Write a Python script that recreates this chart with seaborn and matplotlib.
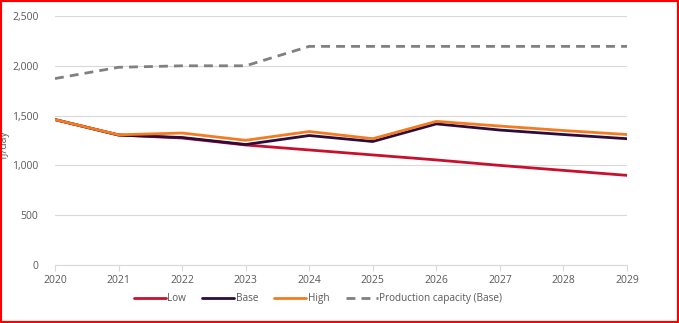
import matplotlib
matplotlib.use("Agg")
import matplotlib.pyplot as plt
import matplotlib.patches as mpatches
import matplotlib.ticker as mticker
import seaborn as sns
import pandas as pd

years = [2020, 2021, 2022, 2023, 2024, 2025, 2026, 2027, 2028, 2029]
low = [1460, 1305, 1275, 1205, 1155, 1105, 1055, 1000, 950, 900]
base = [1460, 1305, 1280, 1210, 1300, 1240, 1417, 1355, 1310, 1268]
high = [1460, 1307, 1325, 1252, 1340, 1268, 1442, 1395, 1350, 1310]
capacity = [1872, 1985, 2000, 2000, 2195, 2195, 2195, 2195, 2195, 2195]

series_names = ["Low", "Base", "High", "Production capacity (Base)"]
series_values = [low, base, high, capacity]

df = pd.DataFrame(
    [(name, y, v) for name, vals in zip(series_names, series_values) for y, v in zip(years, vals)],
    columns=["series", "year", "value"],
)

sns.set_theme(style="white")
plt.rcParams["font.family"] = ["Open Sans", "DejaVu Sans"]

palette = {
    "Low": "#c8102e",
    "Base": "#2d0c3c",
    "High": "#f47b20",
    "Production capacity (Base)": "#808080",
}
dashes = {
    "Low": "",
    "Base": "",
    "High": "",
    "Production capacity (Base)": (3.2, 2.2),
}

fig = plt.figure(figsize=(6.79, 3.23), dpi=100)
ax = fig.add_axes([55 / 679, 1 - 265 / 323, (627 - 55) / 679, (265 - 16) / 323])

sns.lineplot(
    data=df, x="year", y="value", hue="series", style="series",
    hue_order=series_names, style_order=series_names,
    palette=palette, dashes=dashes, linewidth=2.0, ax=ax, legend=True,
)

text_color = "#595959"
ax.set_xlim(2020, 2029)
ax.set_ylim(0, 2500)
ax.set_xticks(years)
ax.set_yticks([0, 500, 1000, 1500, 2000, 2500])
ax.yaxis.set_major_formatter(mticker.FuncFormatter(lambda v, p: f"{int(v):,}"))
ax.grid(axis="y", color="#d9d9d9", linewidth=0.8)
ax.grid(axis="x", visible=False)
for side in ["top", "right", "left"]:
    ax.spines[side].set_visible(False)
ax.spines["bottom"].set_color("#d9d9d9")
ax.spines["bottom"].set_linewidth(0.8)
ax.tick_params(axis="x", bottom=True, length=4, width=0.8, color="#d9d9d9",
               labelsize=7.5, labelcolor=text_color, pad=3)
ax.tick_params(axis="y", left=False, labelsize=7.5, labelcolor=text_color, pad=6)
ax.set_xlabel("")
ax.set_ylabel("TJ/day", fontsize=7.5, color=text_color)
ax.yaxis.set_label_coords(-45 / 572, 0.48)

handles, labels = ax.get_legend_handles_labels()
ax.legend(
    handles, labels, loc="center", bbox_to_anchor=((318 - 55) / 572, -0.135), ncol=4,
    frameon=False, fontsize=7.2, handlelength=3.2, handletextpad=0.15,
    columnspacing=1.6, labelcolor=text_color,
)

fig.patches.append(mpatches.Rectangle(
    (0, 0), 1, 1, transform=fig.transFigure, fill=False,
    edgecolor="#ff0000", linewidth=3.0, zorder=10,
))

fig.savefig("out.png", dpi=100)
